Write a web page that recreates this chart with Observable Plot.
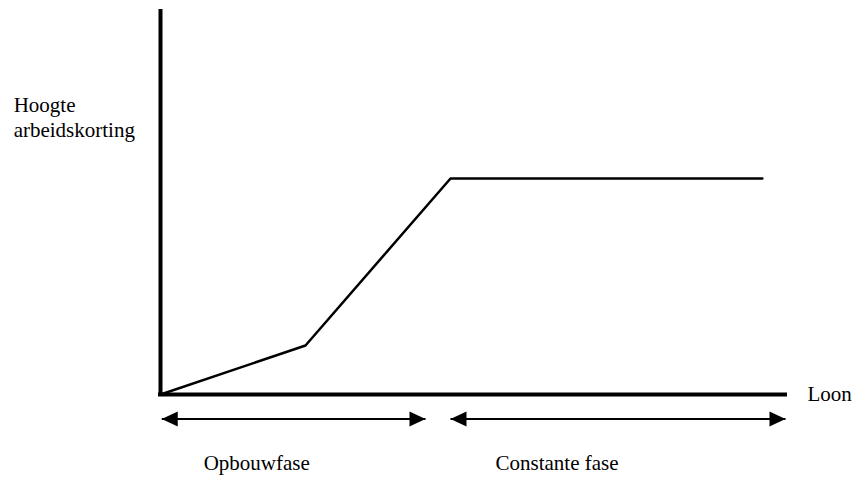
<!DOCTYPE html>
<html>
<head>
<meta charset="utf-8">
<script src="https://cdn.jsdelivr.net/npm/d3@7"></script>
<script src="https://cdn.jsdelivr.net/npm/@observablehq/plot@0.6"></script>
<style>
  html, body { margin: 0; padding: 0; background: #fff; }
  #chart svg { display: block; }
  #chart svg text { font-family: "Liberation Serif", "Times New Roman", serif; }
</style>
</head>
<body>
<div id="chart"></div>
<script>
// Arbeidskorting schematic: wage (x, 0–100) vs. height of tax credit (y, 0–100)
const lineLoon = [0, 23.2, 46.4, 96.3];
const lineKorting = [0, 12.8, 56.4, 56.4];

const axisMax = 100;

const phases = ["Opbouwfase", "Constante fase"];
const phaseStart = [0.2, 46.4];
const phaseEnd = [42.4, 100];
const phaseLabelX = [6.9, 53.6];
const arrowY = -6.4;
const phaseLabelY = -18.0;

const yLabelLines = ["Hoogte", "arbeidskorting"];
const yLabelY = [75.4, 69.0];
const yLabelX = -23.5;

const xLabel = "Loon";
const xLabelX = 103.5;

const lineData = lineLoon.map((x, i) => ({x, y: lineKorting[i]}));
const phaseData = phases.map((p, i) => ({name: p, x1: phaseStart[i], x2: phaseEnd[i], lx: phaseLabelX[i]}));
const heads = phaseData.flatMap(d => [{x: d.x1, rot: 180}, {x: d.x2, rot: 0}]);

const arrowHead = {
  draw(context) {
    context.moveTo(0, 0);
    context.lineTo(-16, -7.5);
    context.lineTo(-16, 7.5);
    context.closePath();
  }
};

const font = "Liberation Serif, Times New Roman, serif";

const chart = Plot.plot({
  width: 861,
  height: 479,
  marginLeft: 160,
  marginRight: 76,
  marginTop: 11,
  marginBottom: 85,
  x: {domain: [0, axisMax], axis: null},
  y: {domain: [0, axisMax], axis: null},
  style: {background: "#fff"},
  marks: [
    Plot.ruleX([0], {y1: 0, y2: axisMax, stroke: "#000", strokeWidth: 4, strokeLinecap: "square"}),
    Plot.ruleY([0], {x1: 0, x2: axisMax, stroke: "#000", strokeWidth: 4, strokeLinecap: "square"}),
    Plot.line(lineData, {x: "x", y: "y", stroke: "#000", strokeWidth: 2.5, strokeLinejoin: "miter"}),
    Plot.link(phaseData, {x1: "x1", x2: "x2", y1: arrowY, y2: arrowY, stroke: "#000", strokeWidth: 2}),
    Plot.dot(heads, {x: "x", y: arrowY, rotate: "rot", symbol: arrowHead, fill: "#000", stroke: "none"}),
    Plot.text(phaseData, {x: "lx", y: phaseLabelY, text: "name", textAnchor: "start", lineAnchor: "middle", fontSize: 21, fontFamily: font, fill: "#000"}),
    Plot.text(yLabelLines, {x: yLabelX, y: (d, i) => yLabelY[i], text: d => d, textAnchor: "start", lineAnchor: "middle", fontSize: 21, fontFamily: font, fill: "#000"}),
    Plot.text([xLabel], {x: xLabelX, y: 0, text: d => d, textAnchor: "start", lineAnchor: "middle", fontSize: 21, fontFamily: font, fill: "#000"})
  ]
});
document.getElementById("chart").appendChild(chart);
</script>
</body>
</html>
